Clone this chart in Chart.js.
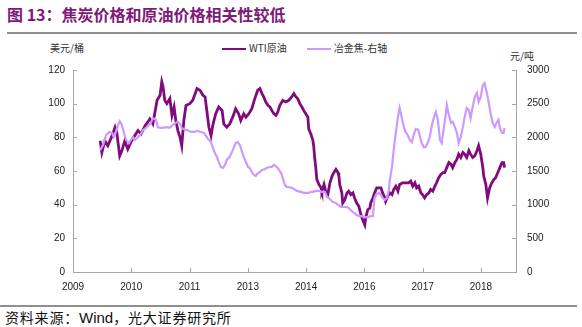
<!DOCTYPE html>
<html><head><meta charset="utf-8">
<script src="https://cdn.jsdelivr.net/npm/chart.js@4/dist/chart.umd.min.js"></script>
<style>
body{margin:0;width:582px;height:327px;position:relative;background:#fff;overflow:hidden;font-family:"Noto Sans CJK SC",sans-serif}
.abs{position:absolute;white-space:nowrap}
#cv{position:absolute;left:0;top:0}
</style></head><body>
<div class="abs" style="left:7px;top:3px;font-weight:bold;font-size:16px;color:#7e1a78;line-height:22px">图 13：焦炭价格和原油价格相关性较低</div>
<div class="abs" style="left:7px;top:32px;width:570px;height:2px;background:#8f8f8f"></div>
<div class="abs" style="left:50px;top:41px;font-size:10px;color:#333;line-height:14px">美元/桶</div>
<div class="abs" style="left:510px;top:49px;font-size:10px;color:#333;line-height:14px">元/吨</div>
<div class="abs" id="legend" style="left:222px;top:41px;font-size:10px;color:#333;line-height:14px"></div>
<div class="abs" style="left:0px;top:305px;width:577px;height:2px;background:#8f8f8f"></div>
<div class="abs" style="left:5px;top:308px;font-size:14px;letter-spacing:0.8px;color:#111;line-height:18px">资料来源：<span style="font-family:'Liberation Sans',Arial;font-size:15px;letter-spacing:0">Wind</span>，光大证券研究所</div>
<canvas id="cv" width="582" height="327"></canvas>
<script>
// WTI crude (USD/bbl), dates in decimal years
const wtiDates = [2009.85,2009.89,2009.96,2010.03,2010.13,2010.20,2010.24,2010.31,2010.36,2010.43,2010.50,2010.57,2010.64,2010.74,2010.81,2010.91,2010.97,2011.02,2011.09,2011.14,2011.19,2011.26,2011.30,2011.33,2011.37,2011.42,2011.49,2011.54,2011.59,2011.63,2011.68,2011.73,2011.77,2011.82,2011.87,2011.96,2012.03,2012.13,2012.20,2012.27,2012.32,2012.36,2012.41,2012.46,2012.50,2012.57,2012.64,2012.72,2012.76,2012.83,2012.90,2012.97,2013.04,2013.11,2013.16,2013.23,2013.28,2013.35,2013.42,2013.49,2013.56,2013.61,2013.66,2013.70,2013.75,2013.80,2013.85,2013.89,2013.94,2013.99,2014.03,2014.08,2014.15,2014.22,2014.29,2014.36,2014.41,2014.46,2014.50,2014.55,2014.60,2014.64,2014.69,2014.74,2014.76,2014.81,2014.86,2014.88,2014.90,2014.93,2014.95,2015.00,2015.05,2015.07,2015.12,2015.16,2015.21,2015.26,2015.31,2015.35,2015.40,2015.45,2015.47,2015.49,2015.54,2015.56,2015.61,2015.66,2015.70,2015.75,2015.80,2015.84,2015.89,2015.94,2015.98,2016.03,2016.08,2016.10,2016.15,2016.20,2016.22,2016.27,2016.31,2016.36,2016.41,2016.46,2016.50,2016.55,2016.57,2016.62,2016.67,2016.72,2016.76,2016.81,2016.86,2016.90,2016.97,2017.04,2017.11,2017.16,2017.21,2017.26,2017.30,2017.35,2017.40,2017.44,2017.49,2017.54,2017.59,2017.63,2017.68,2017.73,2017.77,2017.82,2017.87,2017.92,2017.96,2018.01,2018.06,2018.11,2018.15,2018.20,2018.25,2018.29,2018.34,2018.39,2018.43,2018.48,2018.53,2018.57,2018.62,2018.67,2018.72,2018.76,2018.81,2018.86,2018.88,2018.93,2018.97,2019.02,2019.07,2019.12,2019.16,2019.21,2019.26,2019.31,2019.35,2019.37];
const wtiValues = [78,71,78,75,81,86,83,69,72,78,73,77,80,84,82,87,89,91,88,95,102,105,113,110,102,100,103,93,98,90,84,80,75,90,99,100,102,109,108,105,104,96,86,81,87,94,98,96,88,86,88,92,97,94,90,94,92,94,97,103,108,109,106,104,101,99,98,96,94,93,95,99,102,101,102,104,106,104,103,100,98,96,94,92,85,82,78,74,68,61,55,52,50,48,52,48,46,53,57,59,61,59,57,52,47,41,43,47,48,46,47,44,41,39,35,31,28,32,37,38,41,44,47,50,50,50,47,44,42,45,47,46,49,51,48,52,53,53,53,54,51,53,50,51,47,46,44,46,47,49,48,51,53,56,58,59,59,62,65,64,62,65,67,70,68,71,70,68,72,70,68,69,72,75,70,62,57,52,44,50,53,55,56,59,62,65,65,62];
// Metallurgical coke (CNY/t), right axis
const cokeDates = [2009.85,2009.92,2009.99,2010.06,2010.13,2010.17,2010.22,2010.27,2010.31,2010.36,2010.41,2010.46,2010.53,2010.57,2010.62,2010.67,2010.72,2010.79,2010.86,2010.93,2011.00,2011.04,2011.09,2011.16,2011.21,2011.28,2011.35,2011.42,2011.49,2011.56,2011.63,2011.68,2011.73,2011.77,2011.85,2011.91,2011.99,2012.06,2012.13,2012.22,2012.29,2012.36,2012.41,2012.46,2012.50,2012.55,2012.60,2012.64,2012.69,2012.74,2012.79,2012.83,2012.90,2012.95,2013.00,2013.04,2013.09,2013.14,2013.19,2013.23,2013.28,2013.33,2013.37,2013.42,2013.47,2013.51,2013.56,2013.61,2013.66,2013.73,2013.77,2013.85,2013.89,2013.94,2014.01,2014.06,2014.11,2014.15,2014.20,2014.25,2014.29,2014.36,2014.41,2014.48,2014.57,2014.64,2014.71,2014.76,2014.81,2014.86,2014.93,2015.00,2015.07,2015.14,2015.19,2015.23,2015.28,2015.33,2015.40,2015.45,2015.52,2015.59,2015.66,2015.70,2015.75,2015.80,2015.84,2015.89,2015.94,2016.01,2016.08,2016.15,2016.22,2016.27,2016.29,2016.31,2016.36,2016.41,2016.46,2016.50,2016.55,2016.60,2016.64,2016.67,2016.72,2016.76,2016.81,2016.86,2016.90,2016.95,2017.00,2017.04,2017.09,2017.14,2017.19,2017.23,2017.28,2017.34,2017.37,2017.42,2017.47,2017.51,2017.56,2017.61,2017.66,2017.71,2017.75,2017.80,2017.85,2017.89,2017.94,2017.99,2018.01,2018.06,2018.11,2018.15,2018.20,2018.25,2018.29,2018.34,2018.39,2018.43,2018.48,2018.53,2018.57,2018.62,2018.67,2018.72,2018.76,2018.81,2018.86,2018.90,2018.95,2019.00,2019.04,2019.09,2019.14,2019.18,2019.23,2019.26,2019.31,2019.35,2019.37];
const cokeValues = [1810,1890,2035,2080,2065,2005,2080,2185,2240,2185,2065,1960,1915,1960,2005,1960,1990,2035,2110,2140,2185,2210,2285,2260,2150,2140,2145,2150,2140,2185,2215,2230,2200,2140,2110,2105,2080,2080,2095,2080,2065,2005,1960,1930,1855,1765,1710,1635,1560,1545,1590,1665,1710,1780,1855,1915,1930,1885,1780,1710,1635,1560,1545,1485,1440,1425,1470,1485,1515,1530,1545,1560,1560,1590,1560,1515,1470,1395,1290,1260,1260,1250,1235,1205,1190,1175,1175,1175,1190,1190,1205,1205,1190,1190,1115,1100,1070,1040,1025,995,965,965,965,950,920,890,875,845,830,830,815,815,830,830,965,1100,1160,1175,1145,1100,1070,1100,1190,1365,1560,1810,2065,2300,2436,2300,2155,2080,2035,1960,1930,2035,2125,2110,2035,1915,1855,1855,1915,2005,2185,2300,2375,2260,1960,1915,2140,2360,2480,2330,2215,2230,2155,2065,1915,2005,2155,2300,2435,2405,2285,2450,2600,2660,2525,2600,2775,2805,2675,2510,2360,2215,2155,2215,2260,2140,2065,2065,2140];
// x-axis tick labels (Excel-style date axis, ~500-day major unit)
const xTickLabels = ['2009','2010','2011','2013','2014','2016','2017','2018'];
const xStart = 2009.21, xStep = 1.372, xEnd = 2019.64;
const seriesNames = ['WTI原油','冶金焦-右轴'];
const colors = ['#7f0b7c','#cc99ff'];

// legend (HTML)
document.getElementById('legend').innerHTML = seriesNames.map((n,i)=>
  `<span style="display:inline-block;width:24px;height:2px;background:${colors[i]};vertical-align:middle;margin-right:3px"></span><span style="margin-right:${i?0:20}px">${n}</span>`).join('');

const toPts = (d,v)=>d.map((x,i)=>({x, y:v[i]}));
const inTicks = {
  id:'inTicks',
  afterDraw(chart){
    const c=chart.ctx, a=chart.chartArea;
    c.save(); c.strokeStyle='#a6a6a6'; c.lineWidth=1;
    const yl=chart.scales.y, yr=chart.scales.y1, x=chart.scales.x;
    c.beginPath();
    yl.ticks.forEach(t=>{const p=Math.round(yl.getPixelForValue(t.value))+0.5; c.moveTo(a.left,p); c.lineTo(a.left+4,p);});
    yr.ticks.forEach(t=>{const p=Math.round(yr.getPixelForValue(t.value))+0.5; c.moveTo(a.right,p); c.lineTo(a.right-4,p);});
    x.ticks.forEach(t=>{const p=Math.round(x.getPixelForValue(t.value))+0.5; c.moveTo(p,a.bottom); c.lineTo(p,a.bottom-4);});
    c.stroke(); c.restore();
  }
};
const tickFont = {family:"'Liberation Sans', Arial, sans-serif", size:10};
new Chart(document.getElementById('cv'), {
  type:'line',
  data:{datasets:[
    {label:seriesNames[0], data:toPts(wtiDates,wtiValues), yAxisID:'y', borderColor:colors[0], borderWidth:2.8, pointRadius:0, tension:0, order:1},
    {label:seriesNames[1], data:toPts(cokeDates,cokeValues), yAxisID:'y1', borderColor:colors[1], borderWidth:2.2, pointRadius:0, tension:0, order:0}
  ]},
  options:{
    responsive:false, animation:false, devicePixelRatio:1,
    layout:{padding:{top:70,left:0,right:0,bottom:0}},
    plugins:{legend:{display:false}, tooltip:{enabled:false}},
    scales:{
      x:{type:'linear', min:xStart, max:xEnd,
        afterBuildTicks(s){ s.ticks = xTickLabels.map((l,i)=>({value:xStart+i*xStep, label:l})); },
        afterFit(s){ s.height=55; },
        ticks:{font:tickFont, color:'#222', padding:9, maxRotation:0, autoSkip:false,
          callback(v,i){ return xTickLabels[i]; }},
        grid:{display:false, drawTicks:false}, border:{display:true,color:'#a6a6a6',width:1}},
      y:{position:'left', min:0, max:120, afterFit(s){ s.width=73; },
        ticks:{stepSize:20, font:tickFont, color:'#222', padding:8, callback:v=>String(v)},
        grid:{display:false, drawTicks:false}, border:{display:true,color:'#a6a6a6',width:1}},
      y1:{position:'right', min:0, max:3000, afterFit(s){ s.width=66; },
        ticks:{stepSize:500, font:tickFont, color:'#222', padding:11, callback:v=>String(v)},
        grid:{display:false, drawTicks:false}, border:{display:true,color:'#a6a6a6',width:1}}
    }
  },
  plugins:[inTicks]
});
</script></body></html>
